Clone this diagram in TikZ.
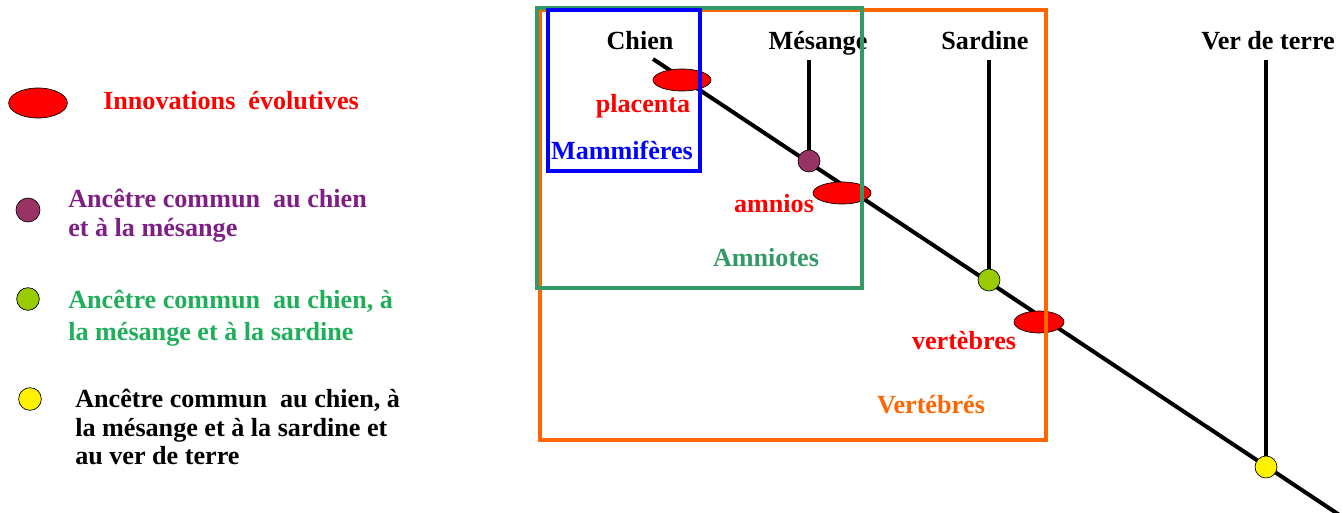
\documentclass[tikz,border=0pt]{standalone}
\usepackage{fontspec}
\setmainfont{Liberation Serif}
\usetikzlibrary{shapes.geometric}
\definecolor{innored}{HTML}{FF0000}
\definecolor{purptext}{HTML}{7F1F86}
\definecolor{purpdot}{HTML}{993366}
\definecolor{greentext}{HTML}{1FAF5A}
\definecolor{greendot}{HTML}{99CC00}
\definecolor{boxgreen}{HTML}{339966}
\definecolor{boxorange}{HTML}{FF6600}
\definecolor{boxblue}{HTML}{0000FF}
\tikzset{
  lbl/.style={font=\fontsize{19.6}{24}\selectfont\bfseries, inner sep=0pt},
  innov/.style={ellipse, draw=black, line width=0.5pt, fill=innored, inner sep=0pt, minimum width=43.5pt, minimum height=16.5pt},
  anc/.style={circle, draw=black, line width=0.5pt, inner sep=0pt, minimum size=16.5pt},
  branch/.style={line width=3pt, black},
  clade/.style={line width=3pt}
}
\begin{document}
\begin{tikzpicture}[x=0.75pt,y=-0.75pt]
\useasboundingbox (0,0) rectangle (1343,513);
% ---- legend ----
\node[innov, minimum width=44pt, minimum height=22.5pt] (legI) at (38,103) {};
\node[lbl, anchor=base west, text=innored] (legIt) at (103,110) {Innovations\ \ évolutives};
\node[anc, fill=purpdot, minimum size=18pt] (legP) at (28,210) {};
\node[lbl, anchor=base west, text=purptext] (legPt1) at (68,208) {Ancêtre commun\ \ au chien};
\node[lbl, anchor=base west, text=purptext] (legPt2) at (68,237) {et à la mésange};
\node[anc, fill=greendot, minimum size=17pt] (legG) at (28,299) {};
\node[lbl, anchor=base west, text=greentext] (legGt1) at (68,309) {Ancêtre commun\ \ au chien, à};
\node[lbl, anchor=base west, text=greentext] (legGt2) at (68,341) {la mésange et à la sardine};
\node[anc, fill=yellow, minimum size=17pt] (legY) at (30,399) {};
\node[lbl, anchor=base west, text=black] (legYt1) at (75,407) {Ancêtre commun\ \ au chien, à};
\node[lbl, anchor=base west, text=black] (legYt2) at (75,436) {la mésange et à la sardine\ et};
\node[lbl, anchor=base west, text=black] (legYt3) at (75,464) {au ver de terre};
% ---- tree ----
\coordinate (root) at (653,59);
\coordinate (tail) at (1341,516);
\coordinate (mesTop) at (809,60);
\coordinate (sarTop) at (989,60);
\coordinate (verTop) at (1266,60);
\draw[branch] (root) -- (tail);
\node[anc, fill=purpdot] (pA) at (809,161) {};
\node[anc, fill=greendot] (gA) at (989,280) {};
\node[anc, fill=yellow] (yA) at (1266,467) {};
\draw[branch] (mesTop) -- (pA.north);
\draw[branch] (sarTop) -- (gA.north);
\draw[branch] (verTop) -- (yA.north);
\node[innov] (plac) at (682,80) {};
\node[innov] (amn) at (842,193) {};
\node[innov, minimum width=37.5pt] (vert) at (1039,322) {};
% taxa
\node[lbl, anchor=base] (chien) at (640,50) {Chien};
\node[lbl, anchor=base] (mes) at (818,50) {Mésange};
\node[lbl, anchor=base] (sar) at (985,50) {Sardine};
\node[lbl, anchor=base] (ver) at (1268,50) {Ver de terre};
% innovation labels
\node[lbl, anchor=base, text=innored] (placT) at (643,113) {placenta};
\node[lbl, anchor=base, text=innored] (amnT) at (774,213) {amnios};
\node[lbl, anchor=base, text=innored] (vertT) at (964,350) {vertèbres};
% clades
\draw[clade, boxorange] (540,10) rectangle (1046,440);
\draw[clade, boxgreen, line width=2.4pt] (537,8) rectangle (862,288);
\draw[clade, boxblue] (548,10) rectangle (700,171);
\node[lbl, anchor=base, text=boxblue] (mamT) at (622,160) {Mammifères};
\node[lbl, anchor=base, text=boxgreen] (amnioT) at (766,267) {Amniotes};
\node[lbl, anchor=base, text=boxorange] (vertbT) at (931,413) {Vertébrés};
\end{tikzpicture}
\end{document}
